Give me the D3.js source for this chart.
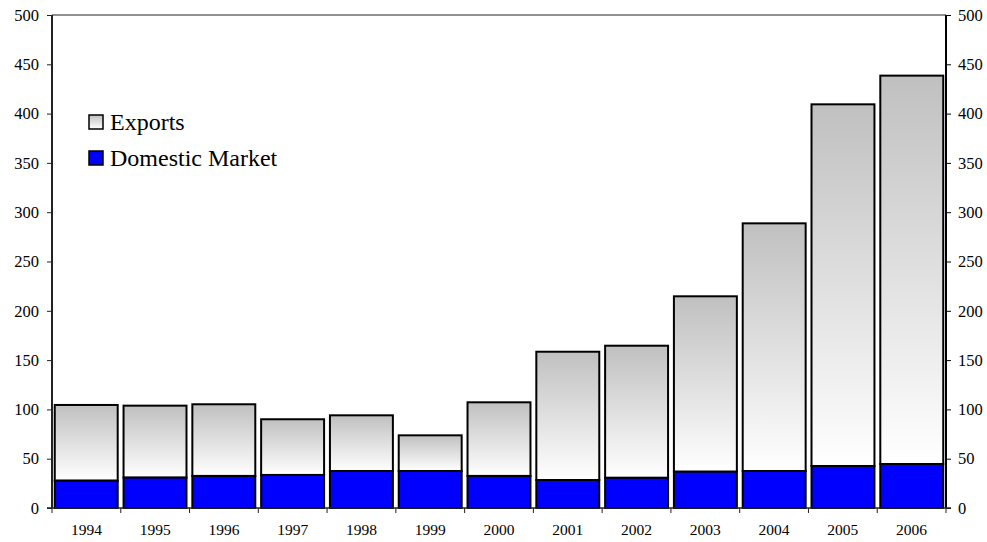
<!DOCTYPE html>
<html>
<head>
<meta charset="utf-8">
<script src="https://cdn.jsdelivr.net/npm/d3@7/dist/d3.min.js"></script>
<style>
  body { margin: 0; background: #fff; }
</style>
</head>
<body>
<div id="chart"></div>
<script>
const years = ['1994','1995','1996','1997','1998','1999','2000','2001','2002','2003','2004','2005','2006'];
const domestic = [27.7, 30.8, 32.5, 33.5, 37.5, 37.5, 32.5, 28.4, 30.6, 36.8, 37.5, 42.6, 44.6];
const totals = [104.5, 103.8, 105.2, 90, 94, 73.7, 107.2, 158.5, 164.6, 214.7, 288.7, 409.4, 438.5];
const yTicks = [0, 50, 100, 150, 200, 250, 300, 350, 400, 450, 500];
const FONT = 'Liberation Serif, DejaVu Serif, serif';

(function() {
    const W = 987, H = 542;
    const margin = { top: 15, right: 41, bottom: 34, left: 52 };
    const svg = d3.select('#chart').append('svg').attr('width', W).attr('height', H)
        .attr('font-family', FONT);

    const x = d3.scaleBand().domain(years).range([margin.left, W - margin.right]).paddingInner(0.085).paddingOuter(0.04);
    const xb = d3.scaleBand().domain(years).range([margin.left, W - margin.right]);
    const y = d3.scaleLinear().domain([0, 500]).range([H - margin.bottom, margin.top]);

    const grad = svg.append('defs').append('linearGradient').attr('id', 'expGrad')
        .attr('x1', 0).attr('y1', 0).attr('x2', 0).attr('y2', 1);
    grad.append('stop').attr('offset', '0%').attr('stop-color', '#c0c0c0');
    grad.append('stop').attr('offset', '100%').attr('stop-color', '#ffffff');

    // top border
    svg.append('line').attr('x1', margin.left).attr('x2', W - margin.right)
        .attr('y1', y(500)).attr('y2', y(500)).attr('stroke', '#222').attr('stroke-width', 1);

    const bars = svg.append('g');
    bars.selectAll('rect.exp').data(years).enter().append('rect')
        .attr('class', 'exp')
        .attr('x', d => x(d)).attr('width', x.bandwidth())
        .attr('y', (d, i) => y(totals[i]))
        .attr('height', (d, i) => y(domestic[i]) - y(totals[i]))
        .attr('fill', 'url(#expGrad)').attr('stroke', '#000').attr('stroke-width', 2);
    bars.selectAll('rect.dom').data(years).enter().append('rect')
        .attr('class', 'dom')
        .attr('x', d => x(d)).attr('width', x.bandwidth())
        .attr('y', (d, i) => y(domestic[i]))
        .attr('height', (d, i) => y(0) - y(domestic[i]))
        .attr('fill', '#0000ff').attr('stroke', '#000').attr('stroke-width', 2);

    const left = svg.append('g').attr('transform', `translate(${margin.left},0)`)
        .call(d3.axisLeft(y).tickValues(yTicks).tickSize(5).tickPadding(8));
    left.attr('font-family', FONT).attr('font-size', 16.5);
    left.select('.domain').attr('stroke', '#222').attr('stroke-width', 2).attr('d', `M0,${y(0)}V${y(500)}`);
    left.selectAll('.tick line').attr('stroke', '#222');

    const right = svg.append('g').attr('transform', `translate(${W - margin.right},0)`)
        .call(d3.axisRight(y).tickValues(yTicks).tickSize(5).tickPadding(7));
    right.attr('font-family', FONT).attr('font-size', 16.5);
    right.select('.domain').attr('stroke', '#000').attr('stroke-width', 2).attr('d', `M0,${y(0)}V${y(500)}`);
    right.selectAll('.tick line').attr('stroke', '#000');

    const bottom = svg.append('g').attr('transform', `translate(0,${y(0)})`)
        .call(d3.axisBottom(xb).tickSize(0).tickPadding(16));
    bottom.attr('font-family', FONT).attr('font-size', 15.5);
    bottom.select('.domain').attr('stroke', '#222').attr('stroke-width', 1.5)
        .attr('d', `M${margin.left - 5},0H${W - margin.right + 5}`);
    // category boundary ticks
    bottom.selectAll('line.sep').data(years.concat(['end'])).enter().append('line')
        .attr('class', 'sep')
        .attr('x1', (d, i) => margin.left + i * xb.step()).attr('x2', (d, i) => margin.left + i * xb.step())
        .attr('y1', 0).attr('y2', 5).attr('stroke', '#222').attr('stroke-width', 1);

    // legend
    const legendItems = [
        { label: 'Exports', fill: 'url(#expGrad)' },
        { label: 'Domestic Market', fill: '#0000ff' }
    ];
    const lg = svg.append('g').attr('transform', 'translate(89,115)');
    legendItems.forEach((it, i) => {
        const g = lg.append('g').attr('transform', `translate(0,${i * 36})`);
        g.append('rect').attr('width', 14).attr('height', 14).attr('fill', it.fill)
            .attr('stroke', '#000').attr('stroke-width', 1.5);
        g.append('text').attr('x', 21).attr('y', 15).attr('font-size', 24).attr('fill', '#000').text(it.label);
    });
})();
</script>
</body>
</html>
